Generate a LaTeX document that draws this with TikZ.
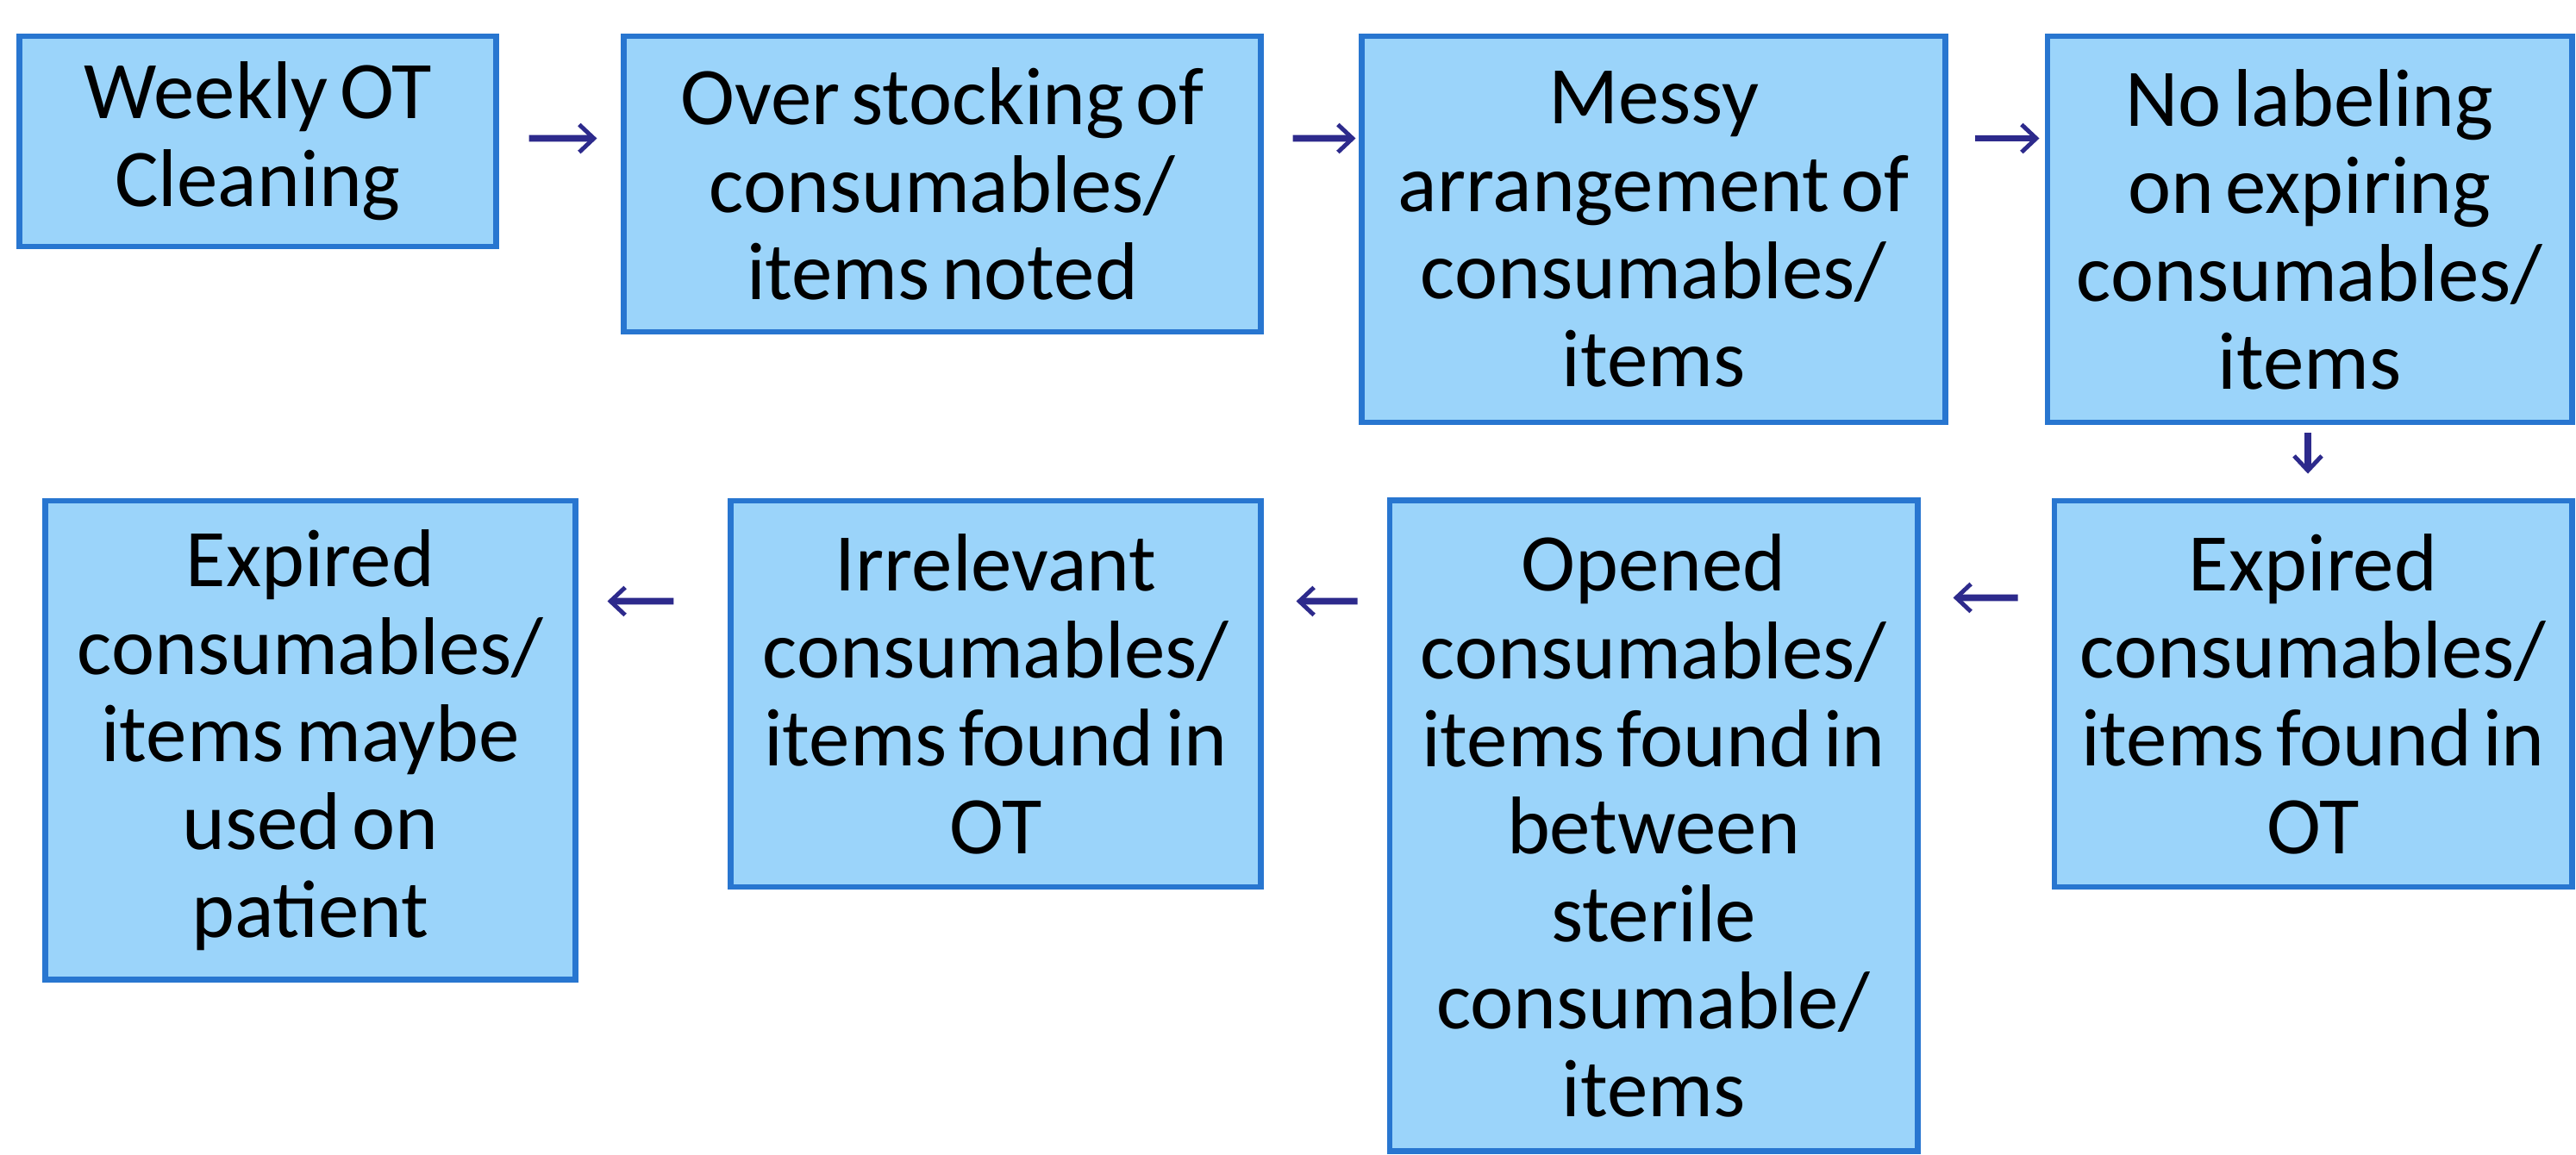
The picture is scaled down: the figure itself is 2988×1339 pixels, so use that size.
\documentclass[tikz,border=0pt]{standalone}
\usepackage{fontspec}
\setmainfont{Carlito}
\usetikzlibrary{calc,arrows.meta}
\definecolor{boxfill}{RGB}{155,212,250}
\definecolor{boxline}{RGB}{40,118,208}
\definecolor{arrline}{RGB}{45,42,140}
\newcommand{\tightspaces}{\spaceskip=0.14em plus 0.05em\relax}
\begin{document}
\begin{tikzpicture}[x=0.01cm,y=-0.01cm,
  stepbox/.style={draw=boxline,fill=boxfill,line width=1.9pt,inner sep=0pt,align=center,
    font=\fontsize{27}{28.9}\selectfont,execute at begin node=\tightspaces},
  arr/.style={draw=arrline,line width=2.2pt,-{Straight Barb[length=0.17cm,width=0.32cm,line width=1.4pt]}}]
\useasboundingbox (0,0) rectangle (2988,1339);
\fill[white] (0,0) rectangle (2988,1339);
\node[stepbox,minimum width=5.52cm,minimum height=2.44cm] (b1) at (299,164) {Weekly OT\\Cleaning};
\node[stepbox,minimum width=7.38cm,minimum height=3.43cm] (b2) at (1093,213.5) {Over stocking of\\consumables/\\items noted};
\node[stepbox,minimum width=6.76cm,minimum height=4.48cm] (b3) at (1918,266) {Messy\\arrangement of\\consumables/\\items};
\node[stepbox,minimum width=6.08cm,minimum height=4.48cm] (b4) at (2679,266) {No labeling\\on expiring\\consumables/\\items};
\node[stepbox,minimum width=6.00cm,minimum height=4.48cm] (b5) at (2683,805) {Expired\\consumables/\\items found in\\OT};
\node[stepbox,minimum width=6.12cm,minimum height=7.54cm] (b6) at (1918,958) {Opened\\consumables/\\items found in\\between\\sterile\\consumable/\\items};
\node[stepbox,minimum width=6.14cm,minimum height=4.48cm] (b7) at (1155,805) {Irrelevant\\consumables/\\items found in\\OT};
\node[stepbox,minimum width=6.14cm,minimum height=5.55cm] (b8) at (360,858.5) {Expired\\consumables/\\items maybe\\used on\\patient};
\draw[arr] ($(b1.north east)+(35,122)$) -- ($(b2.north west)+(-28,122)$);
\draw[arr] ($(b2.north east)+(34,122)$) -- ($(b3.north west)+(-4,122)$);
\draw[arr] ($(b3.north east)+(31,122)$) -- ($(b4.north west)+(-6,122)$);
\draw[arr] ($(b4.south)+(-2,9)$) -- ($(b5.north)+(-6,-28)$);
\draw[arr] ($(b5.north west)+(-39,116)$) -- ($(b6.north east)+(38,116)$);
\draw[arr] ($(b6.north west)+(-34,120)$) -- ($(b7.north east)+(38,120)$);
\draw[arr] ($(b7.north west)+(-63,120)$) -- ($(b8.north east)+(34,120)$);
\end{tikzpicture}
\end{document}
